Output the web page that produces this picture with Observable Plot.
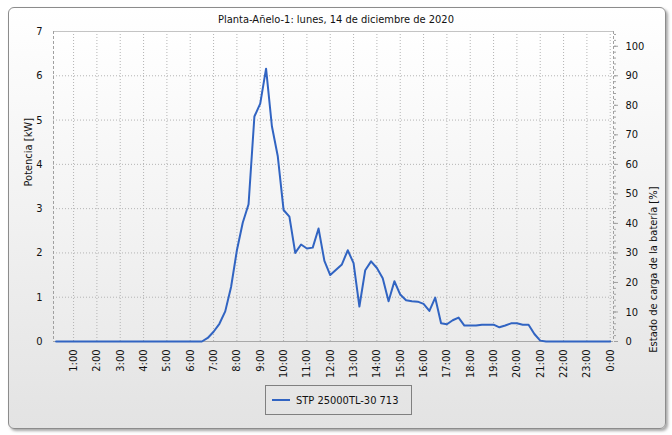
<!DOCTYPE html>
<html>
<head>
<meta charset="utf-8">
<script src="https://cdn.jsdelivr.net/npm/d3@7"></script>
<script src="https://cdn.jsdelivr.net/npm/@observablehq/plot@0.6"></script>
<style>
  html, body { margin: 0; padding: 0; background: #ffffff; }
  body { width: 672px; height: 435px; position: relative; overflow: hidden; font-family: "DejaVu Sans Condensed", "DejaVu Sans", sans-serif; }
  #panel { position: absolute; left: 8px; top: 7px; width: 656px; height: 420px; border: 1px solid #8c8c8c; border-radius: 6px;
           background: linear-gradient(#ffffff, #e3e3e3); box-shadow: 2px 2px 3px rgba(0,0,0,0.35); }
  #chart { position: absolute; left: 0; top: 0; width: 672px; }
  #title { height: 13px; padding-top: 13px; line-height: 13px; font-size: 11px; color: #111; text-align: center; }
  #legend { margin-left: 265px; margin-top: -1px; width: 145px; height: 28px; border: 1px solid #808080; display: flex; align-items: center; font-size: 11px; color: #111; }
  #legend .sw { width: 18px; height: 0; border-top: 2px solid #3164c2; margin-left: 6px; margin-right: 6px; }
</style>
</head>
<body>
<div id="panel"></div>
<div id="chart">
  <div id="title">Planta-Añelo-1: lunes, 14 de diciembre de 2020</div>
  <div id="plot"></div>
  <div id="legend"><div class="sw"></div><span>STP 25000TL-30 713</span></div>
</div>
<script>
const times = [
  "0:15","0:30","0:45","1:00","1:15","1:30","1:45","2:00","2:15","2:30","2:45","3:00",
  "3:15","3:30","3:45","4:00","4:15","4:30","4:45","5:00","5:15","5:30","5:45","6:00",
  "6:15","6:30","6:45","7:00","7:15","7:30","7:45","8:00","8:15","8:30","8:45","9:00",
  "9:15","9:30","9:45","10:00","10:15","10:30","10:45","11:00","11:15","11:30","11:45","12:00",
  "12:15","12:30","12:45","13:00","13:15","13:30","13:45","14:00","14:15","14:30","14:45","15:00",
  "15:15","15:30","15:45","16:00","16:15","16:30","16:45","17:00","17:15","17:30","17:45","18:00",
  "18:15","18:30","18:45","19:00","19:15","19:30","19:45","20:00","20:15","20:30","20:45","21:00",
  "21:15","21:30","21:45","22:00","22:15","22:30","22:45","23:00","23:15","23:30","23:45","24:00"
];
const power = [
  0,0,0,0,0,0,0,0,0,0,0,0,
  0,0,0,0,0,0,0,0,0,0,0,0,
  0,0,0.08,0.22,0.40,0.68,1.23,2.06,2.68,3.10,5.08,5.37,
  6.16,4.86,4.19,2.97,2.82,2.00,2.19,2.10,2.12,2.55,1.82,1.50,
  1.62,1.74,2.06,1.77,0.79,1.61,1.81,1.66,1.43,0.91,1.36,1.06,
  0.93,0.91,0.90,0.85,0.69,0.99,0.41,0.39,0.48,0.54,0.36,0.36,
  0.36,0.38,0.38,0.38,0.32,0.36,0.41,0.41,0.38,0.38,0.17,0.02,
  0,0,0,0,0,0,0,0,0,0,0,0
];
const hourTicks = [1,2,3,4,5,6,7,8,9,10,11,12,13,14,15,16,17,18,19,20,21,22,23,24];
const hourLabels = ["1:00","2:00","3:00","4:00","5:00","6:00","7:00","8:00","9:00","10:00","11:00","12:00",
  "13:00","14:00","15:00","16:00","17:00","18:00","19:00","20:00","21:00","22:00","23:00","0:00"];
const kwTicks = [0,1,2,3,4,5,6,7];
const pctTicks = [0,10,20,30,40,50,60,70,80,90,100];
const pctMinor = [0,2,4,6,8,10,12,14,16,18,20,22,24,26,28,30,32,34,36,38,40,42,44,46,48,50,
  52,54,56,58,60,62,64,66,68,70,72,74,76,78,80,82,84,86,88,90,92,94,96,98,100,102,104];

const kwMax = 7, pctMax = 105;
const xDomain = [0.14, 24.14];
const toHours = s => { const [h, m] = s.split(":").map(Number); return h + m / 60; };
const data = times.map((t, i) => ({h: toHours(t), p: power[i]}));
const pctToKw = p => p * kwMax / pctMax;

const chart = Plot.plot({
  width: 672,
  height: 360,
  marginLeft: 53,
  marginRight: 59,
  marginTop: 5,
  marginBottom: 45,
  style: {fontFamily: '"DejaVu Sans Condensed", "DejaVu Sans", sans-serif', fontSize: "11px", color: "#111", background: "transparent", overflow: "visible"},
  x: {domain: xDomain, axis: null, label: null},
  y: {domain: [0, kwMax], axis: null, label: null},
  marks: [
    Plot.frame({fill: "url(#plotgrad)", stroke: null}),
    Plot.gridX(hourTicks, {stroke: "#b4b4b4", strokeOpacity: 1, strokeDasharray: "1,2"}),
    Plot.gridY(kwTicks.filter(d => d > 0 && d < kwMax), {stroke: "#b4b4b4", strokeOpacity: 1, strokeDasharray: "1,2"}),
    Plot.ruleY([kwMax], {stroke: "#c4c4c4"}),
    Plot.ruleX([xDomain[0]], {stroke: "#a0a0a0", strokeDasharray: "3,2"}),
    Plot.ruleX([xDomain[1]], {stroke: "#a0a0a0", strokeDasharray: "3,2"}),
    Plot.ruleY([0], {stroke: "#a8a8a8"}),
    Plot.axisX(hourTicks, {anchor: "bottom", tickSize: 0, tickPadding: 8, tickRotate: -90, tickFormat: d => hourLabels[hourTicks.indexOf(d)], fill: "#111", label: null}),
    Plot.axisY(kwTicks, {anchor: "left", tickSize: 0, tickPadding: 11, fill: "#111", label: null}),
    Plot.axisY(pctMinor.map(pctToKw), {anchor: "right", tickSize: 2, stroke: "#a0a0a0", tickFormat: () => "", label: null}),
    Plot.axisY(pctTicks.map(pctToKw), {anchor: "right", tickSize: 4, stroke: "#a0a0a0", tickPadding: 8, fill: "#111", tickFormat: d => String(Math.round(d * pctMax / kwMax)), label: null}),
    Plot.text(["Potencia [kW]"], {frameAnchor: "left", dx: -25, rotate: -90, fill: "#111"}),
    Plot.text(["Estado de carga de la batería [%]"], {frameAnchor: "right", dx: 40, rotate: -90, fill: "#111"}),
    Plot.line(data, {x: "h", y: "p", stroke: "#3164c2", strokeWidth: 2})
  ]
});

const svg = d3.select(chart);
const defs = svg.insert("defs", ":first-child");
const g = defs.append("linearGradient").attr("id", "plotgrad").attr("x1", 0).attr("y1", 0).attr("x2", 0).attr("y2", 1);
g.append("stop").attr("offset", "0%").attr("stop-color", "#ffffff");
g.append("stop").attr("offset", "100%").attr("stop-color", "#ebebeb");
document.getElementById("plot").appendChild(chart);
</script>
</body>
</html>
